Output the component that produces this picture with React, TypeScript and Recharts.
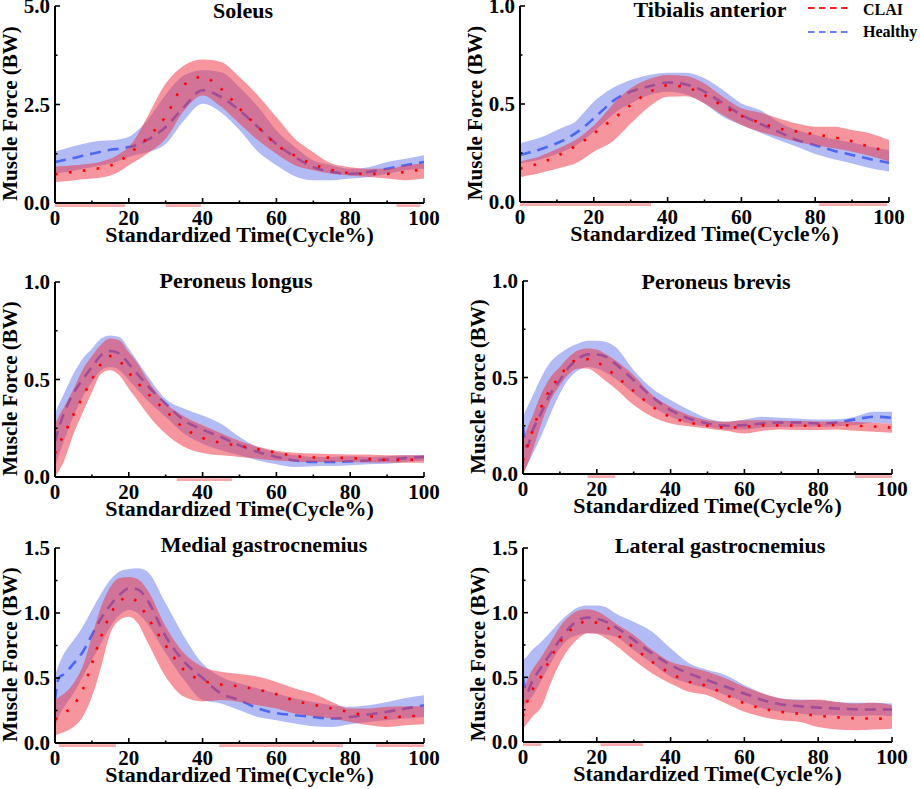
import React from 'react';
import { ComposedChart, Area, Line, XAxis, YAxis, ReferenceLine, Legend, Customized } from 'recharts';

// ---------- shared ----------
const TIME = [0, 1, 2.5, 5, 7.5, 10, 12.5, 15, 17.5, 20, 22.5, 25, 30, 35, 40, 45, 50, 55, 60, 65, 70, 75, 80, 85, 90, 95, 100];
const X_TICKS = [0, 10, 20, 30, 40, 50, 60, 70, 80, 90, 100];
const X_LABEL = 'Standardized Time(Cycle%)';
const Y_LABEL = 'Muscle Force (BW)';
const SERIES_NAMES = ['CLAI', 'Healthy'];

// ---------- Soleus ----------
const SOL_CLAI_MEAN = [0.73, 0.74, 0.76, 0.79, 0.82, 0.85, 0.89, 0.95, 1.05, 1.25, 1.43, 1.65, 2.2, 3.0, 3.2, 2.9, 2.4, 1.93, 1.48, 1.2, 0.98, 0.84, 0.76, 0.74, 0.74, 0.79, 0.86];
const SOL_CLAI_LO = [0.53, 0.54, 0.55, 0.57, 0.6, 0.62, 0.65, 0.7, 0.8, 0.96, 1.1, 1.25, 1.63, 2.35, 2.73, 2.44, 2.01, 1.59, 1.25, 0.96, 0.83, 0.74, 0.7, 0.66, 0.62, 0.58, 0.62];
const SOL_CLAI_HI = [0.92, 0.93, 0.94, 0.96, 0.98, 1.0, 1.05, 1.12, 1.25, 1.42, 1.75, 2.18, 3.03, 3.49, 3.64, 3.58, 3.2, 2.73, 2.18, 1.63, 1.29, 1.0, 0.91, 0.87, 0.87, 0.95, 1.0];
const SOL_H_MEAN = [1.04, 1.06, 1.09, 1.14, 1.2, 1.25, 1.3, 1.35, 1.38, 1.42, 1.48, 1.6, 1.93, 2.44, 2.86, 2.69, 2.35, 1.93, 1.5, 1.17, 0.91, 0.79, 0.74, 0.79, 0.87, 0.96, 1.04];
const SOL_H_LO = [0.75, 0.76, 0.78, 0.82, 0.87, 0.91, 0.95, 1.0, 1.08, 1.17, 1.23, 1.29, 1.5, 2.1, 2.52, 2.3, 1.85, 1.3, 0.96, 0.68, 0.58, 0.58, 0.62, 0.66, 0.74, 0.83, 0.87];
const SOL_H_HI = [1.3, 1.33, 1.37, 1.44, 1.5, 1.55, 1.58, 1.59, 1.62, 1.68, 1.85, 2.1, 2.75, 3.24, 3.37, 3.32, 2.94, 2.44, 1.84, 1.42, 1.08, 0.96, 0.87, 0.91, 1.04, 1.12, 1.21];
const SOL_SIG = [[0, 19], [30, 39.5], [92.5, 99]];
const SOL_Y_TICKS = [0, 1.25, 2.5, 3.75, 5];

// ---------- Tibialis anterior ----------
const TA_CLAI_MEAN = [0.17, 0.175, 0.183, 0.195, 0.213, 0.235, 0.258, 0.285, 0.315, 0.35, 0.385, 0.42, 0.495, 0.56, 0.595, 0.585, 0.545, 0.49, 0.44, 0.405, 0.375, 0.36, 0.345, 0.33, 0.31, 0.28, 0.26];
const TA_CLAI_LO = [0.126, 0.13, 0.136, 0.146, 0.158, 0.17, 0.183, 0.197, 0.225, 0.257, 0.28, 0.308, 0.4, 0.486, 0.537, 0.54, 0.503, 0.444, 0.393, 0.359, 0.333, 0.308, 0.29, 0.274, 0.257, 0.235, 0.206];
const TA_CLAI_HI = [0.206, 0.21, 0.218, 0.23, 0.25, 0.27, 0.292, 0.316, 0.35, 0.39, 0.44, 0.495, 0.58, 0.627, 0.648, 0.643, 0.605, 0.537, 0.478, 0.456, 0.427, 0.4, 0.384, 0.384, 0.367, 0.35, 0.316];
const TA_H_MEAN = [0.24, 0.245, 0.252, 0.265, 0.282, 0.3, 0.322, 0.35, 0.385, 0.427, 0.47, 0.512, 0.563, 0.59, 0.61, 0.6, 0.563, 0.503, 0.444, 0.4, 0.359, 0.316, 0.29, 0.262, 0.24, 0.218, 0.2];
const TA_H_LO = [0.197, 0.2, 0.205, 0.214, 0.228, 0.245, 0.264, 0.286, 0.32, 0.359, 0.4, 0.444, 0.503, 0.546, 0.563, 0.549, 0.503, 0.435, 0.393, 0.354, 0.316, 0.282, 0.245, 0.218, 0.197, 0.172, 0.155];
const TA_H_HI = [0.3, 0.305, 0.313, 0.325, 0.345, 0.367, 0.388, 0.41, 0.46, 0.512, 0.55, 0.58, 0.622, 0.648, 0.66, 0.66, 0.631, 0.571, 0.503, 0.47, 0.41, 0.367, 0.342, 0.32, 0.303, 0.282, 0.265];
const TA_SIG = [[0, 35.5], [81, 99.5]];
const UNIT_Y_TICKS = [0, 0.25, 0.5, 0.75, 1];

// ---------- Peroneus longus ----------
const PL_CLAI_MEAN = [0.12, 0.165, 0.22, 0.32, 0.41, 0.5, 0.58, 0.62, 0.595, 0.535, 0.48, 0.43, 0.34, 0.25, 0.2, 0.175, 0.16, 0.142, 0.125, 0.108, 0.1, 0.099, 0.097, 0.093, 0.088, 0.088, 0.092];
const PL_CLAI_LO = [0.0, 0.03, 0.085, 0.22, 0.33, 0.435, 0.53, 0.547, 0.52, 0.453, 0.39, 0.325, 0.222, 0.154, 0.123, 0.111, 0.103, 0.094, 0.085, 0.08, 0.077, 0.077, 0.077, 0.075, 0.075, 0.073, 0.073];
const PL_CLAI_HI = [0.27, 0.31, 0.36, 0.45, 0.55, 0.62, 0.68, 0.71, 0.7, 0.64, 0.58, 0.5, 0.38, 0.31, 0.265, 0.225, 0.185, 0.155, 0.135, 0.125, 0.12, 0.118, 0.116, 0.115, 0.111, 0.111, 0.111];
const PL_H_MEAN = [0.18, 0.25, 0.33, 0.43, 0.5, 0.564, 0.624, 0.646, 0.632, 0.58, 0.525, 0.47, 0.376, 0.29, 0.243, 0.205, 0.162, 0.128, 0.103, 0.085, 0.077, 0.077, 0.08, 0.085, 0.089, 0.097, 0.103];
const PL_H_LO = [0.05, 0.11, 0.188, 0.31, 0.41, 0.487, 0.547, 0.564, 0.547, 0.496, 0.445, 0.393, 0.308, 0.222, 0.171, 0.137, 0.111, 0.085, 0.065, 0.051, 0.055, 0.056, 0.06, 0.065, 0.068, 0.077, 0.085];
const PL_H_HI = [0.325, 0.37, 0.43, 0.53, 0.607, 0.658, 0.71, 0.726, 0.718, 0.658, 0.59, 0.52, 0.4, 0.35, 0.316, 0.273, 0.205, 0.154, 0.128, 0.111, 0.103, 0.103, 0.106, 0.103, 0.106, 0.111, 0.111];
const PL_SIG = [[33, 48]];

// ---------- Peroneus brevis ----------
const PB_CLAI_MEAN = [0.07, 0.13, 0.22, 0.35, 0.443, 0.507, 0.569, 0.592, 0.595, 0.579, 0.55, 0.51, 0.43, 0.35, 0.295, 0.267, 0.25, 0.241, 0.244, 0.252, 0.252, 0.25, 0.25, 0.254, 0.25, 0.246, 0.24];
const PB_CLAI_LO = [0.0, 0.04, 0.116, 0.262, 0.383, 0.46, 0.52, 0.547, 0.547, 0.52, 0.48, 0.443, 0.357, 0.297, 0.262, 0.248, 0.236, 0.224, 0.21, 0.224, 0.231, 0.228, 0.228, 0.231, 0.224, 0.219, 0.214];
const PB_CLAI_HI = [0.176, 0.23, 0.297, 0.417, 0.503, 0.555, 0.607, 0.641, 0.65, 0.645, 0.62, 0.59, 0.512, 0.409, 0.348, 0.305, 0.279, 0.271, 0.279, 0.279, 0.276, 0.274, 0.272, 0.272, 0.271, 0.266, 0.262];
const PB_H_MEAN = [0.245, 0.14, 0.22, 0.32, 0.417, 0.486, 0.555, 0.598, 0.62, 0.619, 0.607, 0.572, 0.486, 0.4, 0.331, 0.288, 0.262, 0.25, 0.253, 0.262, 0.267, 0.267, 0.262, 0.267, 0.283, 0.297, 0.291];
const PB_H_LO = [0.0, 0.04, 0.098, 0.2, 0.314, 0.417, 0.495, 0.538, 0.555, 0.547, 0.525, 0.495, 0.417, 0.348, 0.297, 0.262, 0.245, 0.231, 0.231, 0.241, 0.245, 0.245, 0.245, 0.248, 0.253, 0.266, 0.262];
const PB_H_HI = [0.297, 0.34, 0.4, 0.503, 0.581, 0.624, 0.655, 0.676, 0.69, 0.69, 0.684, 0.659, 0.538, 0.443, 0.383, 0.331, 0.288, 0.271, 0.283, 0.297, 0.291, 0.286, 0.283, 0.284, 0.297, 0.322, 0.322];
const PB_SIG = [[17.5, 25], [90, 100]];

// ---------- Medial gastrocnemius ----------
const MG_CLAI_MEAN = [0.18, 0.2, 0.23, 0.29, 0.41, 0.61, 0.82, 0.99, 1.09, 1.12, 1.08, 0.97, 0.75, 0.56, 0.48, 0.45, 0.435, 0.41, 0.375, 0.325, 0.295, 0.265, 0.237, 0.207, 0.195, 0.205, 0.21];
const MG_CLAI_LO = [0.06, 0.07, 0.085, 0.123, 0.2, 0.355, 0.587, 0.844, 0.947, 0.972, 0.92, 0.78, 0.51, 0.355, 0.32, 0.33, 0.316, 0.29, 0.265, 0.226, 0.206, 0.188, 0.162, 0.136, 0.123, 0.136, 0.144];
const MG_CLAI_HI = [0.33, 0.35, 0.38, 0.46, 0.59, 0.82, 1.05, 1.2, 1.27, 1.276, 1.26, 1.18, 0.895, 0.69, 0.587, 0.548, 0.53, 0.51, 0.47, 0.42, 0.38, 0.316, 0.265, 0.265, 0.278, 0.283, 0.283];
const MG_H_MEAN = [0.33, 0.5, 0.53, 0.61, 0.7, 0.83, 0.96, 1.06, 1.14, 1.19, 1.18, 1.1, 0.82, 0.625, 0.5, 0.38, 0.33, 0.265, 0.23, 0.214, 0.2, 0.188, 0.2, 0.219, 0.24, 0.265, 0.29];
const MG_H_LO = [0.123, 0.2, 0.278, 0.38, 0.51, 0.638, 0.767, 0.895, 0.985, 1.024, 0.998, 0.92, 0.69, 0.484, 0.33, 0.304, 0.252, 0.2, 0.175, 0.15, 0.129, 0.123, 0.144, 0.162, 0.175, 0.188, 0.2];
const MG_H_HI = [0.52, 0.6, 0.69, 0.79, 0.895, 1.024, 1.15, 1.255, 1.32, 1.338, 1.345, 1.32, 1.075, 0.818, 0.612, 0.51, 0.458, 0.42, 0.38, 0.342, 0.316, 0.29, 0.278, 0.29, 0.316, 0.347, 0.368];
const MG_SIG = [[1, 16.5], [44.5, 78], [87, 100]];
const GAS_Y_TICKS = [0, 0.25, 0.5, 0.75, 1, 1.25, 1.5];

// ---------- Lateral gastrocnemius ----------
const LG_CLAI_MEAN = [0.2, 0.3, 0.4, 0.51, 0.65, 0.77, 0.855, 0.91, 0.935, 0.922, 0.89, 0.84, 0.73, 0.62, 0.53, 0.465, 0.432, 0.365, 0.3, 0.258, 0.233, 0.218, 0.203, 0.191, 0.183, 0.181, 0.181];
const LG_CLAI_LO = [0.103, 0.14, 0.194, 0.272, 0.453, 0.608, 0.724, 0.8, 0.84, 0.835, 0.8, 0.75, 0.634, 0.53, 0.453, 0.388, 0.362, 0.297, 0.233, 0.194, 0.168, 0.155, 0.116, 0.096, 0.09, 0.096, 0.103];
const LG_CLAI_HI = [0.4, 0.47, 0.556, 0.66, 0.776, 0.892, 0.97, 1.016, 1.027, 1.01, 0.97, 0.918, 0.828, 0.711, 0.62, 0.582, 0.543, 0.491, 0.427, 0.375, 0.336, 0.323, 0.328, 0.31, 0.297, 0.303, 0.284];
const LG_H_MEAN = [0.5, 0.38, 0.47, 0.58, 0.685, 0.79, 0.88, 0.944, 0.962, 0.952, 0.93, 0.89, 0.79, 0.685, 0.595, 0.53, 0.478, 0.427, 0.375, 0.323, 0.29, 0.277, 0.266, 0.259, 0.253, 0.251, 0.251];
const LG_H_LO = [0.27, 0.3, 0.35, 0.478, 0.608, 0.724, 0.8, 0.828, 0.84, 0.84, 0.83, 0.815, 0.711, 0.608, 0.504, 0.453, 0.414, 0.362, 0.31, 0.259, 0.233, 0.22, 0.207, 0.207, 0.199, 0.207, 0.199];
const LG_H_HI = [0.634, 0.66, 0.711, 0.776, 0.853, 0.93, 0.996, 1.042, 1.055, 1.055, 1.042, 0.996, 0.93, 0.853, 0.724, 0.608, 0.556, 0.517, 0.44, 0.375, 0.336, 0.328, 0.323, 0.31, 0.303, 0.303, 0.297];
const LG_SIG = [[0, 5], [21, 32.5]];

// ---------- styling ----------
const FONT = "'Times New Roman', 'Liberation Serif', Times, serif";
const RED_BAND = '#ee3444';
const BLUE_BAND = '#4a5ee8';
const RED_LINE = '#ff0000';
const BLUE_LINE = '#4d67f2';
const SIG_COLOR = '#f8a8a8';
const TOP_PAD = 22;

const buildRows = (cm: number[], cl: number[], ch: number[], hm: number[], hl: number[], hh: number[]) =>
  TIME.map((t, i) => ({ t, cMean: cm[i], cBand: [cl[i], ch[i]], hMean: hm[i], hBand: [hl[i], hh[i]] }));

const XTick = (props: any) => {
  const { x, y, payload } = props;
  const v = payload.value;
  const major = v % 20 === 0;
  return (
    <g>
      <line x1={x} x2={x} y1={y} y2={y - (major ? 5 : 2.5)} stroke="#000" strokeWidth={1.6} />
      {major && (
        <text x={x} y={y + 22} textAnchor="middle" fontFamily={FONT} fontWeight="bold" fontSize={21} fill="#000">
          {v}
        </text>
      )}
    </g>
  );
};

const YTick = (props: any) => {
  const { x, y, payload, step } = props;
  const v = payload.value;
  const r = v / step;
  const major = Math.abs(r - Math.round(r)) < 1e-6;
  return (
    <g>
      <line x1={x} x2={x + (major ? 5 : 2.5)} y1={y} y2={y} stroke="#000" strokeWidth={1.6} />
      {major && (
        <text x={x - 5} y={y} dy="0.35em" textAnchor="end" fontFamily={FONT} fontWeight="bold" fontSize={21} fill="#000">
          {v.toFixed(1)}
        </text>
      )}
    </g>
  );
};

const SigShape = (p: any) => (
  <line x1={p.x1} y1={p.y1 + 2.6} x2={p.x2} y2={p.y2 + 2.6} stroke={SIG_COLOR} strokeWidth={2.6} />
);

const PanelText = (props: any) => {
  const { cfg } = props;
  const chartTop = cfg.plotTop - TOP_PAD;
  const plotBottom = TOP_PAD + cfg.plotH;
  const cy = TOP_PAD + cfg.plotH / 2 + 9;
  return (
    <g>
      <text x={cfg.titleX} y={cfg.titleBase - chartTop} textAnchor="middle" fontFamily={FONT} fontWeight="bold" fontSize={22} fill="#000">
        {cfg.title}
      </text>
      <text x={239.5} y={plotBottom + 39} textAnchor="middle" fontFamily={FONT} fontWeight="bold" fontSize={22} fill="#000">
        {X_LABEL}
      </text>
      <text transform={`translate(10, ${cy}) rotate(-90)`} x={0} y={0} dy="0.35em" textAnchor="middle" fontFamily={FONT} fontWeight="bold" fontSize={21} fill="#000">
        {Y_LABEL}
      </text>
    </g>
  );
};

const LegendBox = () => (
  <svg width={115} height={44} style={{ display: 'block', overflow: 'visible' }}>
    <line x1={0} x2={40} y1={8} y2={8} stroke="#ff2020" strokeWidth={1.8} strokeDasharray="6.5 4.5" />
    <text x={55} y={15} fontFamily={FONT} fontWeight="bold" fontSize={16} fill="#000">{SERIES_NAMES[0]}</text>
    <line x1={0} x2={40} y1={32} y2={32} stroke="#6a7ef5" strokeWidth={1.8} strokeDasharray="6.5 4.5" />
    <text x={55} y={37} fontFamily={FONT} fontWeight="bold" fontSize={16} fill="#000">{SERIES_NAMES[1]}</text>
  </svg>
);

const Panel = ({ cfg, rows, sig, yMax, yTicks, yStep, legend }: any) => {
  const chartTop = cfg.plotTop - TOP_PAD;
  const chartH = Math.min(789 - chartTop, TOP_PAD + cfg.plotH + 57);
  return (
    <div style={{ position: 'absolute', left: cfg.left, top: chartTop, width: 460, height: chartH }}>
      <ComposedChart width={460} height={chartH} data={rows} margin={{ top: TOP_PAD, right: 36, bottom: 0, left: 0 }}>
        <XAxis
          dataKey="t"
          type="number"
          domain={[0, 100]}
          ticks={X_TICKS}
          interval={0}
          tickSize={0}
          tickMargin={0}
          tickLine={false}
          axisLine={{ stroke: '#000', strokeWidth: 2 }}
          height={chartH - TOP_PAD - cfg.plotH}
          tick={<XTick />}
          allowDataOverflow
        />
        <YAxis
          type="number"
          domain={[0, yMax]}
          ticks={yTicks}
          interval={0}
          width={55}
          tickSize={0}
          tickMargin={0}
          tickLine={false}
          axisLine={{ stroke: '#000', strokeWidth: 2 }}
          tick={<YTick step={yStep} />}
          allowDataOverflow
        />
        <Area dataKey="hBand" type="monotone" stroke="none" fill={BLUE_BAND} fillOpacity={0.42} isAnimationActive={false} activeDot={false} zIndex={101} />
        <Line dataKey="hMean" type="monotone" stroke={BLUE_LINE} strokeWidth={2.6} strokeDasharray="11 7" dot={false} activeDot={false} isAnimationActive={false} zIndex={102} />
        <Area dataKey="cBand" type="monotone" stroke="none" fill={RED_BAND} fillOpacity={0.52} isAnimationActive={false} activeDot={false} zIndex={103} />
        <Line dataKey="cMean" type="monotone" stroke={RED_LINE} strokeWidth={2.6} strokeDasharray="2.6 11.4" dot={false} activeDot={false} isAnimationActive={false} zIndex={104} />
        {sig.map((s: number[], i: number) => (
          <ReferenceLine key={i} segment={[{ x: s[0], y: 0 }, { x: s[1], y: 0 }]} stroke={SIG_COLOR} ifOverflow="visible" shape={SigShape} />
        ))}
        <Customized component={<PanelText cfg={cfg} />} />
        {legend && (
          <Legend
            layout="horizontal"
            verticalAlign="middle"
            align="center"
            wrapperStyle={{ top: TOP_PAD - 6, left: 343, width: 115, height: 44 }}
            content={() => <LegendBox />}
          />
        )}
      </ComposedChart>
    </div>
  );
};

const PANELS = [
  { cfg: { title: 'Soleus', left: 0, plotTop: 6, plotH: 197, titleX: 243, titleBase: 18 }, rows: buildRows(SOL_CLAI_MEAN, SOL_CLAI_LO, SOL_CLAI_HI, SOL_H_MEAN, SOL_H_LO, SOL_H_HI), sig: SOL_SIG, yMax: 5, yTicks: SOL_Y_TICKS, yStep: 2.5, legend: false },
  { cfg: { title: 'Tibialis anterior', left: 465, plotTop: 6, plotH: 196, titleX: 245, titleBase: 17 }, rows: buildRows(TA_CLAI_MEAN, TA_CLAI_LO, TA_CLAI_HI, TA_H_MEAN, TA_H_LO, TA_H_HI), sig: TA_SIG, yMax: 1, yTicks: UNIT_Y_TICKS, yStep: 0.5, legend: true },
  { cfg: { title: 'Peroneus longus', left: 0, plotTop: 282, plotH: 195, titleX: 236, titleBase: 288 }, rows: buildRows(PL_CLAI_MEAN, PL_CLAI_LO, PL_CLAI_HI, PL_H_MEAN, PL_H_LO, PL_H_HI), sig: PL_SIG, yMax: 1, yTicks: UNIT_Y_TICKS, yStep: 0.5, legend: false },
  { cfg: { title: 'Peroneus brevis', left: 468, plotTop: 281, plotH: 193, titleX: 248, titleBase: 289 }, rows: buildRows(PB_CLAI_MEAN, PB_CLAI_LO, PB_CLAI_HI, PB_H_MEAN, PB_H_LO, PB_H_HI), sig: PB_SIG, yMax: 1, yTicks: UNIT_Y_TICKS, yStep: 0.5, legend: false },
  { cfg: { title: 'Medial gastrocnemius', left: 0, plotTop: 548, plotH: 195, titleX: 264, titleBase: 552 }, rows: buildRows(MG_CLAI_MEAN, MG_CLAI_LO, MG_CLAI_HI, MG_H_MEAN, MG_H_LO, MG_H_HI), sig: MG_SIG, yMax: 1.5, yTicks: GAS_Y_TICKS, yStep: 0.5, legend: false },
  { cfg: { title: 'Lateral gastrocnemius', left: 468, plotTop: 548, plotH: 194, titleX: 252, titleBase: 553 }, rows: buildRows(LG_CLAI_MEAN, LG_CLAI_LO, LG_CLAI_HI, LG_H_MEAN, LG_H_LO, LG_H_HI), sig: LG_SIG, yMax: 1.5, yTicks: GAS_Y_TICKS, yStep: 0.5, legend: false },
];

export default function App() {
  return (
    <div style={{ position: 'absolute', left: 0, top: 0, width: 920, height: 789, overflow: 'hidden', background: '#fff' }}>
      {PANELS.map((p, i) => (
        <Panel key={i} {...p} />
      ))}
    </div>
  );
}
